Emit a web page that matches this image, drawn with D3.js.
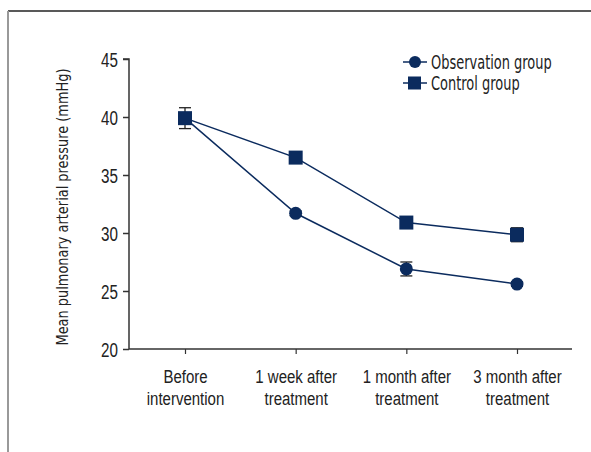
<!DOCTYPE html>
<html><head><meta charset="utf-8">
<script src="https://cdn.jsdelivr.net/npm/d3@7"></script>
<style>
body{margin:0;background:#fff;}
svg{display:block;font-family:"DejaVu Sans Condensed","DejaVu Sans",sans-serif;}
</style></head>
<body>
<svg id="chart" width="591" height="452"></svg>
<script>
const categories = [["Before","intervention"],["1 week after","treatment"],["1 month after","treatment"],["3 month after","treatment"]];
const seriesNames = ["Observation group","Control group"];
const observation = [39.9, 31.7, 26.9, 25.6];
const observationErr = [0.3, 0.2, 0.6, 0.2];
const control = [39.9, 36.5, 30.9, 29.85];
const controlErr = [0.9, 0.2, 0.2, 0.6];
const yTicks = [20, 25, 30, 35, 40, 45];

const navy = "#0b2b5e";
const svg = d3.select("#chart");

// frame
svg.append("line").attr("x1",8).attr("x2",591).attr("y1",11).attr("y2",11).attr("stroke","#222").attr("stroke-width",1.5);
svg.append("line").attr("x1",8).attr("x2",8).attr("y1",11).attr("y2",452).attr("stroke","#999").attr("stroke-width",2);

const x0 = 129, x1 = 572, yTop = 59, yBot = 349;
const y = d3.scaleLinear().domain([20,45]).range([yBot, yTop]);
const x = d3.scalePoint().domain(d3.range(categories.length)).range([185, 517]);

// y axis
const yAxis = svg.append("g").attr("transform",`translate(${x0},0)`)
  .call(d3.axisLeft(y).tickValues(yTicks).tickSize(6).tickPadding(4).tickFormat(d3.format("d")));
yAxis.select(".domain").attr("d",`M-6,${yTop}H0V${yBot}`).attr("stroke","#333").attr("stroke-width",1.5);
yAxis.selectAll(".tick line").attr("stroke","#333").attr("stroke-width",1.5);
yAxis.selectAll(".tick text").attr("font-size",19.5).attr("fill","#222").style("font-family","inherit")
  .attr("x",0).attr("dy","0.36em").attr("transform","translate(-11,0) scale(0.78,1)");

// x axis
const xAxis = svg.append("g").attr("transform",`translate(0,${yBot})`)
  .call(d3.axisBottom(x).tickSize(5).tickFormat(""));
xAxis.select(".domain").attr("d",`M${x0},0H${x1}`).attr("stroke","#333").attr("stroke-width",1.5);
xAxis.selectAll(".tick line").attr("stroke","#333").attr("stroke-width",1.2);
xAxis.selectAll(".tick").each(function(d){
  const t = d3.select(this).append("text").attr("fill","#222").attr("font-size",19)
    .attr("text-anchor","middle").attr("transform","scale(0.79,1)");
  categories[d].forEach((s,i)=>t.append("tspan").attr("x",0).attr("y",34+i*22).text(s));
});

// y title
svg.append("text").attr("transform",`translate(68,207) rotate(-90)`)
  .attr("text-anchor","middle").attr("font-size",16).attr("fill","#222")
  .attr("textLength",277).attr("lengthAdjust","spacingAndGlyphs")
  .text("Mean pulmonary arterial pressure (mmHg)");

const line = d3.line().x((d,i)=>x(i)).y(d=>y(d));

function drawSeries(vals, errs, shape){
  const g = svg.append("g");
  g.append("path").datum(vals).attr("d",line).attr("fill","none").attr("stroke",navy).attr("stroke-width",1.5);
  vals.forEach((v,i)=>{
    const cx = x(i), top = y(v+errs[i]), bot = y(v-errs[i]);
    g.append("line").attr("x1",cx).attr("x2",cx).attr("y1",top).attr("y2",bot).attr("stroke","#222").attr("stroke-width",1.3);
    [top,bot].forEach(yy=>g.append("line").attr("x1",cx-6).attr("x2",cx+6).attr("y1",yy).attr("y2",yy).attr("stroke","#222").attr("stroke-width",1.3));
  });
  vals.forEach((v,i)=>{
    if(shape==="circle") g.append("circle").attr("cx",x(i)).attr("cy",y(v)).attr("r",6.5).attr("fill",navy);
    else g.append("rect").attr("x",x(i)-7).attr("y",y(v)-7).attr("width",14).attr("height",14).attr("fill",navy);
  });
}
drawSeries(observation, observationErr, "circle");
drawSeries(control, controlErr, "square");

// legend
const leg = svg.append("g");
seriesNames.forEach((name,i)=>{
  const ly = 62 + i*21;
  leg.append("line").attr("x1",403).attr("x2",427).attr("y1",ly).attr("y2",ly).attr("stroke",navy).attr("stroke-width",1.5);
  if(i===0) leg.append("circle").attr("cx",415).attr("cy",ly).attr("r",6).attr("fill",navy);
  else leg.append("rect").attr("x",408).attr("y",ly-6.5).attr("width",13).attr("height",13).attr("fill",navy);
  leg.append("text").attr("transform",`translate(431,${ly+7}) scale(0.74,1)`)
    .attr("font-size",19.5).attr("fill","#222").text(name);
});
</script>
</body></html>
